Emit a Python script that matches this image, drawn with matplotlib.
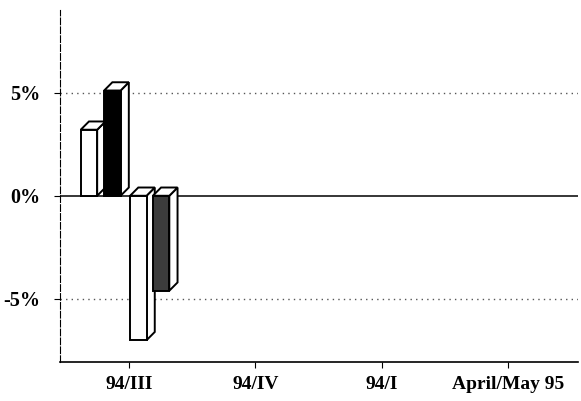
import matplotlib
matplotlib.use("Agg")
import matplotlib.pyplot as plt
from matplotlib.patches import Polygon

# data
categories = ["94/III", "94/IV", "94/I", "April/May 95"]
series_values = [3.2, 5.1, -7.0, -4.6]   # four bars, all in the 94/III group
series_faces = ["white", "black", "white", "#3c3c3c"]
y_ticks = [-5, 0, 5]
y_tick_labels = ["-5%", "0%", "5%"]

plt.rcParams["font.family"] = ["Liberation Serif", "DejaVu Serif"]

fig = plt.figure(figsize=(5.81, 4.01), dpi=100)
ax = fig.add_axes([0.103, 0.097, 0.892, 0.878])

xs = list(range(len(categories)))
offsets = [-0.315, -0.13, 0.075, 0.255]
width = 0.13
dx, dy = 0.065, 0.4   # depth of the 3d effect

# zero line and dotted guides
ax.axhline(0, color="black", lw=1.1, zorder=1)
for yv in (5, -5):
    ax.axhline(yv, color="#555555", lw=1.0, linestyle=(0, (1, 3)), zorder=0)


def bar3d(x, v, face):
    x0, x1 = x - width / 2, x + width / 2
    hi, lo = max(0, v), min(0, v)
    kw = dict(edgecolor="black", lw=1.4, joinstyle="miter")
    ax.add_patch(Polygon([(x1, lo), (x1, hi), (x1 + dx, hi + dy), (x1 + dx, lo + dy)],
                         facecolor="white", zorder=2, **kw))
    ax.add_patch(Polygon([(x0, hi), (x0 + dx, hi + dy), (x1 + dx, hi + dy), (x1, hi)],
                         facecolor="white", zorder=2, **kw))
    ax.bar(x, v, width=width, color=face, zorder=3, **kw)


for off, v, face in zip(offsets, series_values, series_faces):
    bar3d(xs[0] + off, v, face)

ax.set_xlim(-0.545, 3.55)
ax.set_ylim(-8.06, 9.0)
ax.set_xticks(xs)
ax.set_xticklabels(categories, fontsize=14, fontweight="bold")
ax.set_yticks(y_ticks)
ax.set_yticklabels(y_tick_labels, fontsize=14.5, fontweight="bold")
ax.tick_params(axis="x", direction="out", length=4, width=0.8, pad=6)
ax.tick_params(axis="y", direction="out", length=4, width=0.8, pad=10)

for side in ("top", "right"):
    ax.spines[side].set_visible(False)
ax.spines["left"].set_linestyle((0, (6, 2)))
ax.spines["left"].set_linewidth(0.8)
ax.spines["bottom"].set_linewidth(1.2)

fig.savefig("out.png", dpi=100)
